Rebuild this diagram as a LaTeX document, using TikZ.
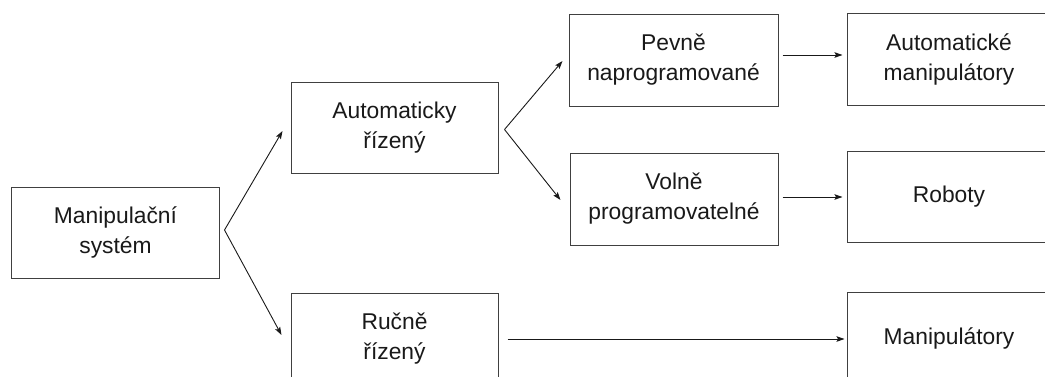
\documentclass[tikz,border=0pt]{standalone}
\usepackage{fontspec}
\setmainfont{Liberation Sans}
\usetikzlibrary{arrows.meta}

\tikzset{
  box/.style={draw=black!75, line width=1bp, align=center,
    minimum width=207bp, minimum height=91bp, inner sep=0pt,
    font=\fontsize{22.9}{30.1}\selectfont, text=black!90},
  arr/.style={line width=0.9bp, draw=black!90,
    -{Stealth[length=8bp,width=5.5bp,inset=1.5bp]}}
}

\begin{document}
\begin{tikzpicture}[x=1bp, y=-1bp]
  \useasboundingbox (0,0) rectangle (1045,376);
  \clip (0,0) rectangle (1045,376);

  % classification boxes
  \node[box] (ms) at (115.5,232.5) {Manipulační\\systém};
  \node[box] (ar) at (394.5,128)   {Automaticky\\řízený};
  \node[box] (rr) at (394.5,338.5) {Ručně\\řízený};
  \node[box, minimum width=209bp, minimum height=92bp] (pn) at (673.5,60) {Pevně\\naprogramované};
  \node[box, minimum width=208bp, minimum height=92bp] (vp) at (674,199) {Volně\\programovatelné};
  \node[box, minimum width=204bp, minimum height=92bp] (am) at (949,59) {Automatické\\manipulátory};
  \node[box, minimum width=204bp] (rb) at (949,196.5) {Roboty};
  \node[box, minimum width=204bp, minimum height=92bp] (mp) at (949,338) {Manipulátory};

  % branching points
  \coordinate (msj) at ([xshift=5bp,yshift=2.5bp]ms.east);
  \coordinate (arj) at ([xshift=6bp,yshift=-1.5bp]ar.east);

  % connectors
  \draw[arr] (msj) -- ([xshift=-8bp,yshift=-3bp]ar.west);
  \draw[arr] (msj) -- ([xshift=-9bp,yshift=3.5bp]rr.west);
  \draw[arr] (arj) -- ([xshift=-6bp,yshift=-1bp]pn.west);
  \draw[arr] (arj) -- ([xshift=-9bp,yshift=-1bp]vp.west);

  \coordinate (pns) at ([xshift=4bp,yshift=5bp]pn.east);
  \draw[arr] (pns) -- ([xshift=-4bp]pns -| am.west);
  \coordinate (vps) at ([xshift=4bp,yshift=2bp]vp.east);
  \draw[arr] (vps) -- ([xshift=-4bp]vps -| rb.west);
  \coordinate (rrs) at ([xshift=9bp,yshift=-0.5bp]rr.east);
  \draw[arr] (rrs) -- ([xshift=-2bp]rrs -| mp.west);
\end{tikzpicture}
\end{document}
